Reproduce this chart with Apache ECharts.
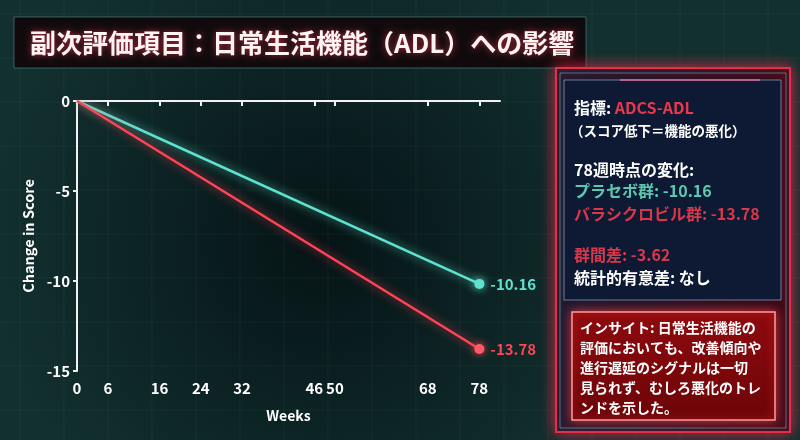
<!DOCTYPE html>
<html>
<head>
<meta charset="utf-8">
<script src="https://cdn.jsdelivr.net/npm/echarts@6/dist/echarts.min.js"></script>
<style>
  html, body { margin: 0; padding: 0; background: #0b1d20; }
  #chart { width: 800px; height: 440px; }
</style>
</head>
<body>
<div id="chart"></div>
<script>
// データ
var weeks = [0, 78]
var placebo = [0, -10.16]
var valacyclovir = [0, -13.78]
var weekTicks = [0, 6, 16, 24, 32, 46, 50, 68, 78]
var scoreTicks = [0, -5, -10, -15]

var FONT = '"Noto Sans CJK JP", "Noto Sans", sans-serif'
var TEAL = '#5fe3cf'
var RED = '#ff4458'

function buildData (vals, color) {
  return weeks.map(function (w, i) {
    var last = i === weeks.length - 1
    return {
      value: [w, vals[i]],
      symbol: last ? 'circle' : 'none',
      symbolSize: last ? 10 : 0,
      label: {
        show: last,
        position: 'right',
        distance: 6,
        formatter: function (p) { return p.value[1].toFixed(2) },
        color: color,
        fontFamily: FONT,
        fontWeight: 'bold',
        fontSize: 15
      }
    }
  })
}

// 背景のグリッド模様
var bgLines = []
for (var x = 20; x < 800; x += 44) {
  bgLines.push({ type: 'line', silent: true, z: -10, shape: { x1: x, y1: 0, x2: x, y2: 440 },
    style: { stroke: 'rgba(110,190,190,0.07)', lineWidth: 1 } })
}
for (var y = 14; y < 440; y += 44) {
  bgLines.push({ type: 'line', silent: true, z: -10, shape: { x1: 0, y1: y, x2: 800, y2: y },
    style: { stroke: 'rgba(110,190,190,0.07)', lineWidth: 1 } })
}

var chart = echarts.init(document.getElementById('chart'))
chart.setOption({
  backgroundColor: {
    type: 'radial', x: 0.4, y: 0.55, r: 0.75,
    colorStops: [{ offset: 0, color: '#061416' }, { offset: 1, color: '#12302f' }]
  },
  animation: false,
  grid: { left: 77, right: 300, top: 101, bottom: 69 },
  xAxis: {
    type: 'value',
    min: 0,
    max: 82,
    name: 'Weeks',
    nameLocation: 'middle',
    nameGap: 38,
    nameTextStyle: { color: '#fff', fontFamily: FONT, fontWeight: 'bold', fontSize: 14 },
    axisLine: { lineStyle: { color: '#f2f2f2', width: 2 } },
    axisTick: { show: true, length: 5, customValues: weekTicks, lineStyle: { color: '#f2f2f2', width: 2 } },
    axisLabel: { customValues: weekTicks, color: '#fff', fontFamily: FONT, fontWeight: 'bold', fontSize: 15, margin: 10 },
    splitLine: { show: false }
  },
  yAxis: {
    type: 'value',
    min: -15,
    max: 0,
    interval: 5,
    name: 'Change in Score',
    nameLocation: 'middle',
    nameGap: 41,
    nameTextStyle: { color: '#fff', fontFamily: FONT, fontWeight: 'bold', fontSize: 14.5 },
    axisLine: { show: true, lineStyle: { color: '#f2f2f2', width: 2 } },
    axisTick: { show: true, length: 4, lineStyle: { color: '#f2f2f2', width: 2 } },
    axisLabel: { color: '#fff', fontFamily: FONT, fontWeight: 'bold', fontSize: 15, margin: 7,
      customValues: scoreTicks },
    splitLine: { show: false }
  },
  series: [
    {
      name: 'プラセボ群',
      type: 'line',
      data: buildData(placebo, TEAL),
      itemStyle: { color: TEAL, shadowBlur: 8, shadowColor: TEAL },
      lineStyle: { color: TEAL, width: 2.5, shadowBlur: 10, shadowColor: 'rgba(95,227,207,0.8)' },
      z: 3
    },
    {
      name: 'バラシクロビル群',
      type: 'line',
      data: buildData(valacyclovir, RED),
      itemStyle: { color: '#ff5a6a', shadowBlur: 8, shadowColor: RED },
      lineStyle: { color: RED, width: 2.5, shadowBlur: 10, shadowColor: 'rgba(255,68,88,0.8)' },
      z: 3
    }
  ],
  graphic: bgLines.concat([
    // タイトル
    { type: 'rect', z: 5, shape: { x: 14, y: 17, width: 572, height: 51 },
      style: { fill: '#110a0d', stroke: 'rgba(120,170,170,0.45)', lineWidth: 1 } },
    { type: 'text', z: 6, x: 30, y: 43,
      style: { text: '副次評価項目：日常生活機能（ADL）への影響', fill: '#fff4f4', font: 'bold 26px ' + FONT,
        textVerticalAlign: 'middle', textShadowColor: 'rgba(255,60,80,0.7)', textShadowBlur: 6 } },
    // 右パネル
    { type: 'rect', z: 5, shape: { x: 556, y: 68, width: 234, height: 364 },
      style: { fill: { type: 'linear', x: 0, y: 0, x2: 1, y2: 0,
        colorStops: [{ offset: 0, color: '#1a1a30' }, { offset: 1, color: '#3a0a18' }] },
        stroke: '#e0304c', lineWidth: 2, shadowBlur: 14, shadowColor: 'rgba(255,40,70,0.8)' } },
    { type: 'rect', z: 5, shape: { x: 560, y: 73, width: 226, height: 355 },
      style: { fill: 'none', stroke: 'rgba(80,200,220,0.55)', lineWidth: 1 } },
    { type: 'rect', z: 5, shape: { x: 564, y: 80, width: 217, height: 220 },
      style: { fill: '#0e1a34', stroke: 'rgba(150,170,200,0.7)', lineWidth: 1 } },
    { type: 'line', z: 6, shape: { x1: 620, y1: 80, x2: 760, y2: 80 },
      style: { stroke: 'rgba(255,120,170,0.8)', lineWidth: 1.5 } },
    { type: 'text', z: 6, x: 574, y: 108,
      style: { text: '{w|指標: }{r|ADCS-ADL}', textVerticalAlign: 'middle',
        rich: { w: { fill: '#fff', font: 'bold 16px ' + FONT }, r: { fill: '#e8384e', font: 'bold 16px ' + FONT } } } },
    { type: 'text', z: 6, x: 570, y: 131,
      style: { text: '（スコア低下＝機能の悪化）', fill: '#fff', font: 'bold 13.5px ' + FONT, textVerticalAlign: 'middle' } },
    { type: 'text', z: 6, x: 574, y: 170,
      style: { text: '78週時点の変化:', fill: '#fff', font: 'bold 16px ' + FONT, textVerticalAlign: 'middle' } },
    { type: 'text', z: 6, x: 574, y: 191,
      style: { text: 'プラセボ群: -10.16', fill: '#5cc8b0', font: 'bold 16px ' + FONT, textVerticalAlign: 'middle' } },
    { type: 'text', z: 6, x: 574, y: 214,
      style: { text: 'バラシクロビル群: -13.78', fill: '#d8384a', font: 'bold 16px ' + FONT, textVerticalAlign: 'middle' } },
    { type: 'text', z: 6, x: 574, y: 255,
      style: { text: '群間差: -3.62', fill: '#d8384a', font: 'bold 16px ' + FONT, textVerticalAlign: 'middle' } },
    { type: 'text', z: 6, x: 574, y: 278,
      style: { text: '統計的有意差: なし', fill: '#fff', font: 'bold 16px ' + FONT, textVerticalAlign: 'middle' } },
    // インサイト
    { type: 'rect', z: 6, shape: { x: 572, y: 312, width: 203, height: 108 },
      style: { fill: { type: 'linear', x: 0, y: 0, x2: 0, y2: 1,
        colorStops: [{ offset: 0, color: '#8e0a0e' }, { offset: 1, color: '#6c0508' }] },
        stroke: '#ff9a9a', lineWidth: 1.5, shadowBlur: 10, shadowColor: 'rgba(255,60,60,0.8)' } },
    { type: 'text', z: 7, x: 580, y: 318,
      style: { text: 'インサイト: 日常生活機能の\n評価においても、改善傾向や\n進行遅延のシグナルは一切\n見られず、むしろ悪化のトレ\nンドを示した。',
        fill: '#fff', font: 'bold 14px ' + FONT, lineHeight: 20 } }
  ])
})
</script>
</body>
</html>
